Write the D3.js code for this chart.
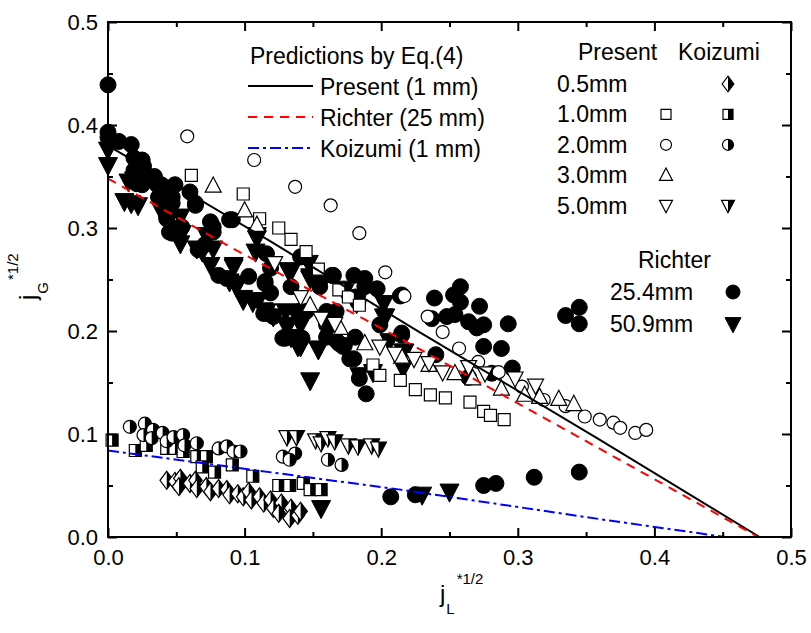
<!DOCTYPE html>
<html><head><meta charset="utf-8">
<script src="https://cdn.jsdelivr.net/npm/d3@7"></script>
<style>body{margin:0;background:#fff}svg{display:block}text{font-family:"Liberation Sans",Arial,sans-serif}</style>
</head><body><svg id="c" width="811" height="633"></svg>
<script>
// ---------- data ----------
const xTicks = [0.0, 0.1, 0.2, 0.3, 0.4, 0.5];
const yTicks = [0.0, 0.1, 0.2, 0.3, 0.4, 0.5];
const xTickLabels = ["0.0", "0.1", "0.2", "0.3", "0.4", "0.5"];
const yTickLabels = ["0.0", "0.1", "0.2", "0.3", "0.4", "0.5"];

// prediction curves
const linePresent = [[0.000, 0.380], [0.119, 0.287], [0.228, 0.199], [0.358, 0.096], [0.477, 0.000]];
const lineRichter = [[0.000, 0.348], [0.089, 0.282], [0.226, 0.184], [0.346, 0.096], [0.476, 0.000]];
const lineKoizumi = [[0.000, 0.084], [0.214, 0.046], [0.367, 0.016], [0.452, 0.000]];

// Present data (open symbols)
const present10 = [[0.061,0.351],[0.099,0.333],[0.111,0.309],[0.125,0.300],[0.134,0.289],[0.145,0.277],[0.154,0.260],[0.169,0.240],[0.176,0.233],[0.184,0.225],[0.194,0.167],[0.199,0.157],[0.214,0.152],[0.225,0.143],[0.236,0.138],[0.247,0.135],[0.265,0.131],[0.275,0.122],[0.280,0.118],[0.290,0.114]];
const present20 = [[0.058,0.389],[0.107,0.366],[0.137,0.340],[0.163,0.322],[0.184,0.295],[0.203,0.257],[0.217,0.234],[0.234,0.214],[0.245,0.199],[0.257,0.183],[0.271,0.170],[0.286,0.160],[0.303,0.146],[0.319,0.133],[0.335,0.127],[0.349,0.117],[0.360,0.114],[0.370,0.111],[0.375,0.106],[0.386,0.101],[0.394,0.104]];
const present30 = [[0.077,0.341],[0.100,0.317],[0.109,0.303],[0.148,0.225],[0.170,0.203],[0.188,0.188],[0.215,0.175],[0.235,0.167],[0.254,0.159],[0.267,0.154],[0.288,0.144],[0.305,0.138],[0.316,0.136],[0.330,0.134],[0.341,0.129]];
const present50 = [[0.122,0.266],[0.141,0.233],[0.156,0.212],[0.166,0.207],[0.199,0.185],[0.210,0.178],[0.224,0.173],[0.235,0.169],[0.245,0.160],[0.264,0.165],[0.276,0.159],[0.298,0.154],[0.313,0.147]];

// Koizumi data (half-filled symbols)
const koizumi05 = [[0.043,0.055],[0.049,0.054],[0.053,0.057],[0.052,0.049],[0.060,0.052],[0.064,0.055],[0.065,0.047],[0.072,0.049],[0.075,0.044],[0.081,0.047],[0.087,0.046],[0.089,0.041],[0.095,0.042],[0.099,0.039],[0.103,0.044],[0.105,0.036],[0.111,0.039],[0.114,0.033],[0.119,0.036],[0.121,0.028],[0.127,0.033],[0.125,0.023],[0.134,0.028],[0.133,0.018],[0.139,0.021],[0.141,0.025]];
const koizumi10 = [[0.003,0.094],[0.020,0.084],[0.028,0.089],[0.043,0.086],[0.049,0.086],[0.055,0.083],[0.065,0.078],[0.072,0.078],[0.069,0.068],[0.078,0.063],[0.091,0.070],[0.106,0.059],[0.125,0.050],[0.133,0.050],[0.143,0.052],[0.148,0.046],[0.156,0.046]];
const koizumi20 = [[0.016,0.107],[0.027,0.110],[0.026,0.099],[0.033,0.104],[0.032,0.096],[0.040,0.101],[0.043,0.093],[0.048,0.097],[0.055,0.099],[0.056,0.089],[0.065,0.091],[0.081,0.086],[0.087,0.088],[0.092,0.083],[0.097,0.083],[0.128,0.078],[0.137,0.081],[0.133,0.075],[0.161,0.075],[0.171,0.070]];
const koizumi50 = [[0.131,0.097],[0.138,0.097],[0.152,0.094],[0.156,0.091],[0.161,0.096],[0.166,0.093],[0.176,0.089],[0.183,0.088],[0.193,0.089],[0.198,0.086]];

// Richter data (filled symbols)
const richter254 = [[0.000,0.439],[0.000,0.393],[0.000,0.388],[0.008,0.384],[0.017,0.381],[0.019,0.368],[0.025,0.366],[0.026,0.360],[0.019,0.356],[0.026,0.355],[0.021,0.343],[0.025,0.342],[0.034,0.350],[0.036,0.342],[0.039,0.342],[0.049,0.342],[0.037,0.330],[0.047,0.330],[0.047,0.324],[0.060,0.335],[0.064,0.322],[0.043,0.311],[0.047,0.295],[0.054,0.301],[0.075,0.306],[0.077,0.301],[0.089,0.308],[0.045,0.329],[0.064,0.324],[0.043,0.309],[0.045,0.296],[0.077,0.296],[0.066,0.279],[0.071,0.284],[0.081,0.254],[0.087,0.251],[0.103,0.253],[0.115,0.246],[0.116,0.275],[0.119,0.237],[0.141,0.272],[0.150,0.254],[0.155,0.243],[0.165,0.254],[0.134,0.243],[0.139,0.219],[0.145,0.219],[0.160,0.219],[0.167,0.219],[0.114,0.217],[0.121,0.214],[0.128,0.193],[0.160,0.194],[0.169,0.188],[0.172,0.185],[0.177,0.173],[0.091,0.308],[0.119,0.261],[0.115,0.248],[0.130,0.193],[0.142,0.272],[0.154,0.253],[0.164,0.254],[0.180,0.254],[0.188,0.251],[0.188,0.243],[0.197,0.241],[0.181,0.233],[0.183,0.228],[0.214,0.234],[0.160,0.206],[0.161,0.196],[0.167,0.191],[0.173,0.186],[0.181,0.194],[0.142,0.193],[0.199,0.206],[0.215,0.198],[0.180,0.173],[0.184,0.154],[0.189,0.139],[0.215,0.235],[0.239,0.232],[0.258,0.243],[0.253,0.235],[0.258,0.228],[0.272,0.224],[0.237,0.212],[0.248,0.214],[0.254,0.216],[0.264,0.209],[0.270,0.203],[0.275,0.206],[0.293,0.207],[0.335,0.215],[0.345,0.223],[0.345,0.207],[0.215,0.196],[0.275,0.185],[0.288,0.183],[0.240,0.177],[0.281,0.159],[0.296,0.164],[0.264,0.155],[0.207,0.039],[0.225,0.041],[0.275,0.050],[0.284,0.052],[0.312,0.058],[0.345,0.063]];
const richter509 = [[0.000,0.376],[0.000,0.361],[0.015,0.345],[0.019,0.347],[0.012,0.326],[0.017,0.324],[0.022,0.322],[0.039,0.317],[0.053,0.311],[0.054,0.295],[0.072,0.293],[0.109,0.293],[0.053,0.285],[0.047,0.300],[0.065,0.280],[0.069,0.277],[0.077,0.280],[0.075,0.264],[0.092,0.264],[0.089,0.248],[0.094,0.243],[0.099,0.230],[0.106,0.228],[0.116,0.219],[0.121,0.214],[0.130,0.219],[0.131,0.204],[0.141,0.206],[0.134,0.194],[0.141,0.185],[0.154,0.182],[0.148,0.152],[0.109,0.290],[0.108,0.277],[0.134,0.258],[0.147,0.266],[0.148,0.251],[0.173,0.238],[0.092,0.262],[0.093,0.246],[0.099,0.232],[0.110,0.230],[0.114,0.220],[0.132,0.259],[0.148,0.253],[0.156,0.245],[0.172,0.241],[0.182,0.227],[0.202,0.227],[0.202,0.214],[0.132,0.206],[0.139,0.185],[0.154,0.183],[0.184,0.157],[0.194,0.160],[0.206,0.190],[0.216,0.180],[0.216,0.164],[0.203,0.214],[0.217,0.180],[0.156,0.028],[0.230,0.041],[0.250,0.044]];

const legendLines = ["Present (1 mm)", "Richter (25 mm)", "Koizumi (1 mm)"];
const legendSizes = ["0.5mm", "1.0mm", "2.0mm", "3.0mm", "5.0mm"];
const richterSizes = ["25.4mm", "50.9mm"];

// ---------- layout ----------
const M = {left:108, right:791, top:22, bottom:537};
const svg = d3.select("#c");
const x = d3.scaleLinear().domain([0,0.5]).range([M.left, M.right]);
const y = d3.scaleLinear().domain([0,0.5]).range([M.bottom, M.top]);
const FS = 22;

// ---------- marker shapes ----------
const shapes = {
  circle: r => `M${-r},0A${r},${r} 0 1,1 ${r},0A${r},${r} 0 1,1 ${-r},0Z`,
  circleR: r => `M0,${-r}A${r},${r} 0 0,1 0,${r}Z`,
  square: s => `M${-s/2},${-s/2}H${s/2}V${s/2}H${-s/2}Z`,
  squareR: s => `M0,${-s/2}H${s/2}V${s/2}H0Z`,
  up: s => `M0,${-s*0.55}L${s/2},${s*0.4}L${-s/2},${s*0.4}Z`,
  down: s => `M${-s/2},${-s*0.4}L${s/2},${-s*0.4}L0,${s*0.55}Z`,
  downR: s => `M0,${-s*0.4}L${s/2},${-s*0.4}L0,${s*0.55}Z`,
  diamond: s => `M0,${-s*0.6}L${s*0.45},0L0,${s*0.6}L${-s*0.45},0Z`,
  diamondR: s => `M0,${-s*0.6}L${s*0.45},0L0,${s*0.6}Z`
};

function series(data, shape, size, style) {
  const g = svg.append("g");
  const sel = g.selectAll("g").data(data).join("g")
    .attr("transform", d => `translate(${x(d[0])},${y(d[1])})`);
  addShape(sel, shape, size, style);
}
function addShape(sel, shape, size, style) {
  if (style === "open") {
    sel.append("path").attr("d", shapes[shape](size)).attr("fill", "#fff").attr("stroke", "#000").attr("stroke-width", 1.2);
  } else if (style === "filled") {
    sel.append("path").attr("d", shapes[shape](size)).attr("fill", "#000").attr("stroke", "#000").attr("stroke-width", 1);
  } else {
    sel.append("path").attr("d", shapes[shape](size)).attr("fill", "#fff").attr("stroke", "#000").attr("stroke-width", 1.2);
    sel.append("path").attr("d", shapes[shape + "R"](size)).attr("fill", "#000");
  }
}

// ---------- markers ----------
series(koizumi05, "diamond", 15, "half");
series(koizumi10, "square", 12, "half");
series(koizumi20, "circle", 6.5, "half");
series(koizumi50, "down", 16, "half");
series(richter254, "circle", 8, "filled");
series(richter509, "down", 19, "filled");
series(present10, "square", 12, "open");
series(present20, "circle", 6.5, "open");
series(present30, "up", 16, "open");
series(present50, "down", 16, "open");

// ---------- prediction lines ----------
const line = d3.line().x(d => x(d[0])).y(d => y(d[1]));
const lineStyles = [
  {data: linePresent, color: "#000", dash: null},
  {data: lineRichter, color: "#ff0000", dash: "9,7"},
  {data: lineKoizumi, color: "#0000ff", dash: "11,4,3,4"}
];
lineStyles.forEach(s => {
  svg.append("path").attr("d", line(s.data)).attr("fill", "none")
    .attr("stroke", s.color).attr("stroke-width", 2).attr("stroke-dasharray", s.dash);
});

// ---------- axes ----------
const minorX = d3.range(0.05, 0.5, 0.1);
const axB = d3.axisBottom(x).tickValues(xTicks).tickFormat((d,i) => xTickLabels[i]).tickSizeInner(-9).tickSizeOuter(0).tickPadding(12);
const axL = d3.axisLeft(y).tickValues(yTicks).tickFormat((d,i) => yTickLabels[i]).tickSizeInner(-9).tickSizeOuter(0).tickPadding(10);
const axT = d3.axisTop(x).tickValues(xTicks).tickFormat("").tickSizeInner(-9).tickSizeOuter(0);
const axR = d3.axisRight(y).tickValues(yTicks).tickFormat("").tickSizeInner(-9).tickSizeOuter(0);
const mB = d3.axisBottom(x).tickValues(minorX).tickFormat("").tickSizeInner(-5).tickSizeOuter(0);
const mT = d3.axisTop(x).tickValues(minorX).tickFormat("").tickSizeInner(-5).tickSizeOuter(0);
const mL = d3.axisLeft(y).tickValues(minorX).tickFormat("").tickSizeInner(-5).tickSizeOuter(0);
const mR = d3.axisRight(y).tickValues(minorX).tickFormat("").tickSizeInner(-5).tickSizeOuter(0);

function addAxis(ax, tr) {
  const g = svg.append("g").attr("transform", tr).call(ax);
  g.select(".domain").remove();
  g.selectAll("line").attr("stroke", "#000").attr("stroke-width", 2);
  g.selectAll("text").attr("font-size", FS).attr("fill", "#000").style("font-family", "Liberation Sans, Arial, sans-serif");
  return g;
}
addAxis(axB, `translate(0,${M.bottom})`);
addAxis(axL, `translate(${M.left},0)`);
addAxis(axT, `translate(0,${M.top})`);
addAxis(axR, `translate(${M.right},0)`);
addAxis(mB, `translate(0,${M.bottom})`);
addAxis(mT, `translate(0,${M.top})`);
addAxis(mL, `translate(${M.left},0)`);
addAxis(mR, `translate(${M.right},0)`);

svg.append("rect").attr("x", M.left).attr("y", M.top).attr("width", M.right - M.left).attr("height", M.bottom - M.top)
  .attr("fill", "none").attr("stroke", "#000").attr("stroke-width", 2);

// ---------- axis titles ----------
const xt = svg.append("text").attr("x", 440).attr("y", 602).attr("font-size", 24);
xt.append("tspan").text("j");
xt.append("tspan").attr("font-size", 15).attr("dy", 12).attr("dx", 1).text("L");
xt.append("tspan").attr("font-size", 15).attr("dy", -30).attr("dx", 2).text("*1/2");

const yt = svg.append("text").attr("transform", "translate(36,300) rotate(-90)").attr("font-size", 24);
yt.append("tspan").text("j");
yt.append("tspan").attr("font-size", 15).attr("dy", 12).attr("dx", 1).text("G");
yt.append("tspan").attr("font-size", 15).attr("dy", -30).attr("dx", 2).text("*1/2");

// ---------- legend 1 ----------
const LF = 23;
svg.append("text").attr("x", 250).attr("y", 64).attr("font-size", LF).text("Predictions by Eq.(4)");
lineStyles.forEach((s, i) => {
  const yy = 86 + i * 31;
  svg.append("line").attr("x1", 248).attr("x2", 313).attr("y1", yy).attr("y2", yy)
    .attr("stroke", s.color).attr("stroke-width", 2).attr("stroke-dasharray", s.dash);
  svg.append("text").attr("x", 320).attr("y", yy + 9).attr("font-size", LF).text(legendLines[i]);
});

// ---------- legend 2 ----------
svg.append("text").attr("x", 578).attr("y", 60).attr("font-size", LF).text("Present");
svg.append("text").attr("x", 678).attr("y", 60).attr("font-size", LF).text("Koizumi");
const presentLegend = [null, ["square", 10], ["circle", 5.5], ["up", 13], ["down", 13]];
const koizumiLegend = [["diamond", 13], ["square", 10], ["circle", 5.5], null, ["down", 13]];
legendSizes.forEach((lab, i) => {
  const yy = 92 + i * 30.4;
  svg.append("text").attr("x", 557).attr("y", yy).attr("font-size", LF).text(lab);
  const cy = yy - 8;
  if (presentLegend[i]) {
    const g = svg.append("g").attr("transform", `translate(666,${cy})`);
    addShape(g, presentLegend[i][0], presentLegend[i][1], "open");
  }
  if (koizumiLegend[i]) {
    const g = svg.append("g").attr("transform", `translate(728,${cy})`);
    addShape(g, koizumiLegend[i][0], koizumiLegend[i][1], "half");
  }
});
svg.append("text").attr("x", 638).attr("y", 268).attr("font-size", LF).text("Richter");
richterSizes.forEach((lab, i) => {
  const yy = 300 + i * 32;
  svg.append("text").attr("x", 610).attr("y", yy).attr("font-size", LF).text(lab);
  const g = svg.append("g").attr("transform", `translate(733,${yy - 8})`);
  if (i === 0) addShape(g, "circle", 7, "filled"); else addShape(g, "down", 16, "filled");
});
</script></body></html>
